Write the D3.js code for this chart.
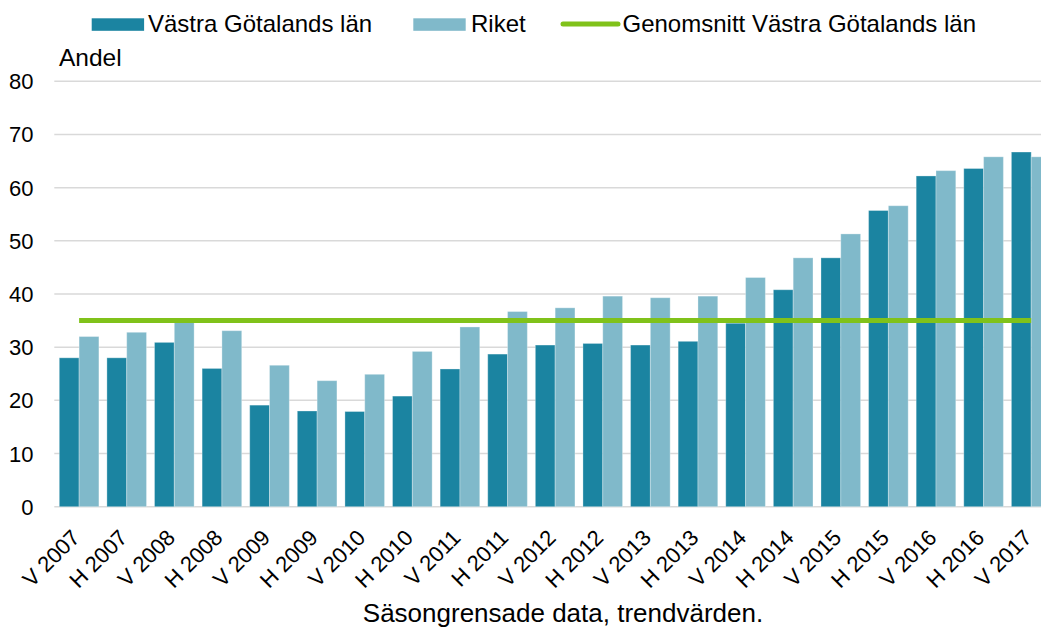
<!DOCTYPE html>
<html>
<head>
<meta charset="utf-8">
<script src="https://cdn.jsdelivr.net/npm/d3@7"></script>
<style>
  html, body { margin: 0; padding: 0; background: #fff; }
  svg { display: block; font-family: "Liberation Sans", Arial, sans-serif; }
</style>
</head>
<body>
<svg id="chart" width="1041" height="630"></svg>
<script>
// Half-year periods (V = vår, H = höst)
const categories = [
  "V 2007", "H 2007", "V 2008", "H 2008", "V 2009", "H 2009", "V 2010",
  "H 2010", "V 2011", "H 2011", "V 2012", "H 2012", "V 2013", "H 2013",
  "V 2014", "H 2014", "V 2015", "H 2015", "V 2016", "H 2016", "V 2017"
];

// Andel, Västra Götalands län
const vastraGotaland = [
  28.0, 28.0, 30.9, 26.0, 19.1, 18.0, 17.9,
  20.8, 25.9, 28.7, 30.4, 30.7, 30.4, 31.1,
  34.5, 40.8, 46.8, 55.7, 62.2, 63.6, 66.7
];

// Andel, Riket
const riket = [
  32.0, 32.8, 34.8, 33.1, 26.6, 23.7, 24.9,
  29.2, 33.8, 36.7, 37.4, 39.6, 39.3, 39.6,
  43.1, 46.8, 51.3, 56.6, 63.2, 65.8, 65.8
];

// Genomsnitt Västra Götalands län over the whole period
const genomsnitt = categories.map(() => 35);

const yTicks = [0, 10, 20, 30, 40, 50, 60, 70, 80];

const seriesNames = ["Västra Götalands län", "Riket", "Genomsnitt Västra Götalands län"];
const colors = { vg: "#1b84a1", riket: "#80b9ca", avg: "#80c21a", grid: "#d9d9d9" };

const svg = d3.select("#chart");
svg.append("rect").attr("width", 1041).attr("height", 630).attr("fill", "#fff");

const x = d3.scaleBand()
  .domain(categories)
  .range([54.3, 1056])
  .paddingInner(0.168)
  .paddingOuter(0.105);

const xSub = d3.scaleBand()
  .domain(["vg", "riket"])
  .range([0, x.bandwidth()]);

const y = d3.scaleLinear().domain([0, 80]).range([506.7, 81.3]);

// Gridlines
svg.append("g")
  .selectAll("line")
  .data(yTicks)
  .join("line")
  .attr("x1", 54.3)
  .attr("x2", 1041)
  .attr("y1", d => y(d))
  .attr("y2", d => y(d))
  .attr("stroke", colors.grid)
  .attr("stroke-width", 1.5);

// Y axis tick labels
svg.append("g")
  .selectAll("text")
  .data(yTicks)
  .join("text")
  .attr("x", 33.5)
  .attr("y", d => y(d) + 8)
  .attr("text-anchor", "end")
  .attr("font-size", 22)
  .attr("fill", "#000")
  .text(d => d);

svg.append("text")
  .attr("x", 59)
  .attr("y", 66)
  .attr("font-size", 24.5)
  .attr("fill", "#000")
  .text("Andel");

// Bars
const rows = categories.map((c, i) => ({ cat: c, vg: vastraGotaland[i], riket: riket[i] }));
const groups = svg.append("g")
  .selectAll("g")
  .data(rows)
  .join("g")
  .attr("transform", d => `translate(${x(d.cat)},0)`);

groups.selectAll("rect")
  .data(d => [{ key: "vg", v: d.vg }, { key: "riket", v: d.riket }])
  .join("rect")
  .attr("x", d => xSub(d.key))
  .attr("width", xSub.bandwidth())
  .attr("y", d => y(d.v))
  .attr("height", d => y(0) - y(d.v))
  .attr("fill", d => colors[d.key])
  .attr("stroke", "#ffffff")
  .attr("stroke-opacity", 0.3)
  .attr("stroke-width", 1);

// Average line
const line = d3.line()
  .x((d, i) => x(categories[i]) + x.bandwidth() / 2)
  .y(d => y(d));

svg.append("path")
  .datum(genomsnitt)
  .attr("d", line)
  .attr("fill", "none")
  .attr("stroke", colors.avg)
  .attr("stroke-width", 5);

// X axis labels, rotated
svg.append("g")
  .selectAll("text")
  .data(categories)
  .join("text")
  .attr("transform", d => `translate(${x(d) + x.bandwidth() / 2 + 2},539) rotate(-45)`)
  .attr("text-anchor", "end")
  .attr("font-size", 22)
  .attr("fill", "#000")
  .text(d => d);

svg.append("text")
  .attr("x", 563)
  .attr("y", 621.5)
  .attr("text-anchor", "middle")
  .attr("font-size", 26)
  .attr("fill", "#000")
  .text("Säsongrensade data, trendvärden.");

// Legend
const legend = svg.append("g");
const legendItems = [
  { name: seriesNames[0], type: "rect", color: colors.vg, x: 91.7, tx: 148 },
  { name: seriesNames[1], type: "rect", color: colors.riket, x: 413.3, tx: 471 },
  { name: seriesNames[2], type: "line", color: colors.avg, x: 563, tx: 622.5 }
];
legendItems.forEach(it => {
  if (it.type === "rect") {
    legend.append("rect")
      .attr("x", it.x).attr("y", 18.3)
      .attr("width", 52.4).attr("height", 12.5)
      .attr("fill", it.color);
  } else {
    legend.append("line")
      .attr("x1", it.x).attr("x2", it.x + 55)
      .attr("y1", 24).attr("y2", 24)
      .attr("stroke", it.color).attr("stroke-width", 5)
      .attr("stroke-linecap", "round");
  }
  legend.append("text")
    .attr("x", it.tx).attr("y", 32.3)
    .attr("font-size", 24)
    .attr("fill", "#000")
    .text(it.name);
});
</script>
</body>
</html>
